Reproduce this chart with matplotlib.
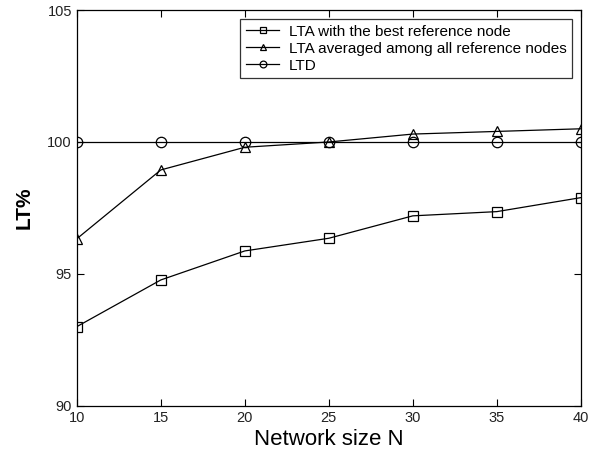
import matplotlib
matplotlib.use("Agg")
import matplotlib.pyplot as plt

plt.rcParams['font.family'] = ['Liberation Sans', 'DejaVu Sans']

N = [10, 15, 20, 25, 30, 35, 40]
lta_best = [93.0, 94.77, 95.87, 96.35, 97.2, 97.36, 97.89]
lta_avg = [96.33, 98.94, 99.8, 100.0, 100.3, 100.4, 100.5]
ltd = [100, 100, 100, 100, 100, 100, 100]
labels = ['LTA with the best reference node',
          'LTA averaged among all reference nodes',
          'LTD']

fig = plt.figure(figsize=(6.0, 4.58), dpi=100)
ax = fig.add_axes([0.128, 0.114, 0.84, 0.864])

kw = dict(color='black', lw=0.9, markerfacecolor='none', markeredgecolor='black',
          markersize=7.5, markeredgewidth=0.9)
ax.plot(N, lta_best, marker='s', label=labels[0], **kw)
ax.plot(N, lta_avg, marker='^', label=labels[1], **kw)
ax.plot(N, ltd, marker='o', label=labels[2], **kw)

ax.set_xlim(10, 40)
ax.set_ylim(90, 105)
ax.set_xticks(N)
ax.set_yticks([90, 95, 100, 105])
ax.tick_params(direction='in', top=True, right=True, labelsize=10.5, length=5, width=0.8,
               labelcolor='#222222')
for s in ax.spines.values():
    s.set_linewidth(0.9)
ax.set_xlabel('Network size N', fontsize=16, labelpad=3)
ax.set_ylabel('LT%', fontsize=15, fontweight='bold', labelpad=10)

leg = ax.legend(loc='upper right', fontsize=11, frameon=True, fancybox=False,
                edgecolor='black', borderpad=0.35, labelspacing=0.2, handlelength=2.2,
                handletextpad=0.6, borderaxespad=0.6, markerscale=0.65)
leg.get_frame().set_linewidth(0.9)

fig.savefig('out.png', dpi=100)
